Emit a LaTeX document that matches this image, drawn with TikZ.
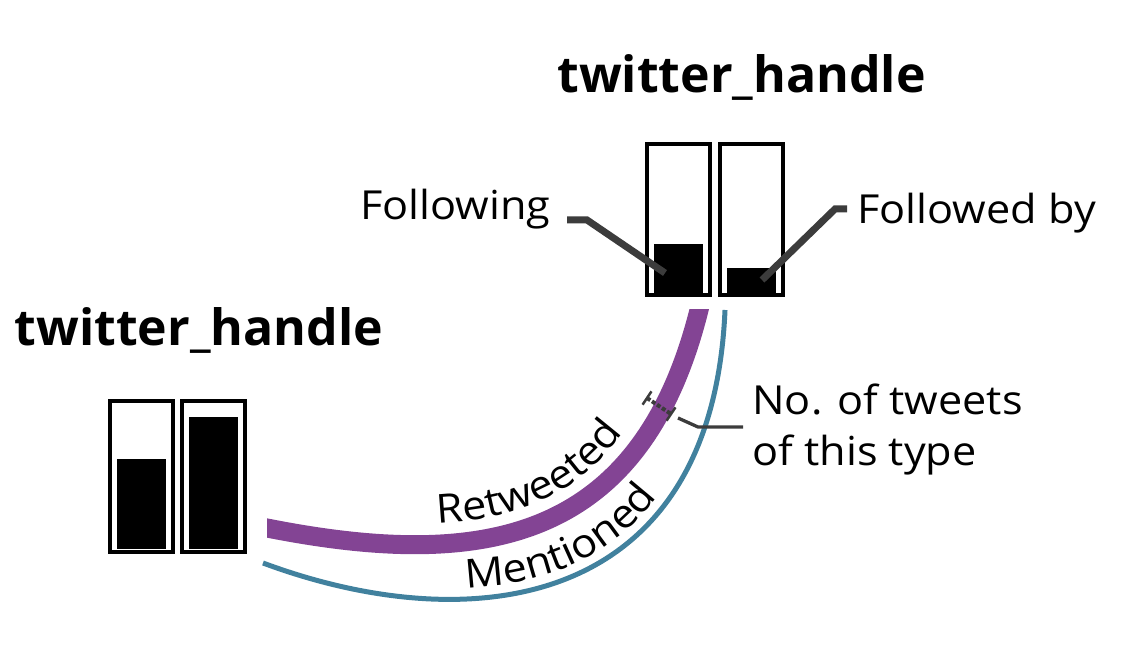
\documentclass[tikz,border=0pt]{standalone}
\usepackage{fontspec}
\setmainfont{Open Sans}
\newfontfamily\lblfont[FakeStretch=1.08]{Open Sans}
\usetikzlibrary{positioning}
\usetikzlibrary{decorations.text}
\usetikzlibrary{calc}
\definecolor{retweetc}{RGB}{131,68,148}
\definecolor{mentionc}{RGB}{65,129,158}
\definecolor{leaderc}{RGB}{60,60,60}
\newcommand{\lblsize}{\lblfont\fontsize{20pt}{25pt}\selectfont}
\newcommand{\handlesize}{\fontsize{25pt}{28pt}\selectfont\bfseries}

\begin{document}
\begin{tikzpicture}[
  x=0.5pt, y=-0.5pt,
  bar/.style={draw, line width=2pt, minimum width=31.5pt, minimum height=75.5pt, inner sep=0pt},
  level/.style={fill=black, inner sep=0pt, minimum width=24.5pt},
  handle/.style={inner sep=0pt, font=\handlesize},
  lbl/.style={inner sep=0pt, font=\lblsize},
  leader/.style={draw=leaderc, line width=3.5pt},
  alongpath/.style={decorate, decoration={text along path, text align={left indent=#1}}}
]
\useasboundingbox (0,0) rectangle (1127,667);

% top account
\node[handle, anchor=base] (h1) at (741.5,93) {twitter\_handle};
\node[bar] (top1) at (678.5,220) {};
\node[bar, right=3pt of top1] (top2) {};
\node[level, minimum height=24.5pt, above=2pt of top1.south] (ftop1) {};
\node[level, minimum height=12.5pt, above=2pt of top2.south] (ftop2) {};

% bottom account
\node[handle, anchor=base] (h2) at (199,346) {twitter\_handle};
\node[bar] (bot1) at (141,476) {};
\node[bar, right=2.5pt of bot1] (bot2) {};
\node[level, minimum height=45pt, above=2pt of bot1.south] (fbot1) {};
\node[level, minimum height=66pt, above=2pt of bot2.south] (fbot2) {};

% legend for the bars
\node[lbl, anchor=base east] (foll) at (551,220) {Following};
\node[lbl, anchor=base west] (fby) at (857,224) {Followed by};
\coordinate (pfoll) at (665,273);
\coordinate (pfby) at (762,280);
\draw[leader] ([xshift=8pt]foll.base east) -- ++(20,0) -- (pfoll);
\draw[leader] ([xshift=-5pt,yshift=7.5pt]fby.base west) -- ++(-12,0) -- (pfby);

% links
\coordinate (rt0) at (267,528);
\coordinate (rt1) at (699,310);
\coordinate (mn0) at (263,563);
\coordinate (mn1) at (725,310);
\begin{scope}
\clip (267,310) rectangle (1127,667);
\draw[draw=retweetc, line width=9.5pt]
  ([shift={(-12,-2.4)}]rt0) -- (rt0) .. controls (480,570) and (640,545) .. (rt1) -- ++(3,-12);
\end{scope}
\draw[draw=mentionc, line width=2.5pt]
  (mn0) .. controls (470,640) and (712,612) .. (mn1);

% link labels
\path[alongpath=84pt, decoration={text={|\lblsize|Retweeted}}]
  (270.7,508.9) .. controls (480.7,543.5) and (618,532.6) .. (680,305);
\path[alongpath=102pt, decoration={text={|\lblsize|Mentioned}}]
  (266.7,553.2) .. controls (471.5,624.6) and (699.3,605.9) .. (714.5,309.5);

% width marker
\coordinate (tk1) at (647,398);
\coordinate (tk2) at (671,414);
\draw[draw=leaderc, line width=2pt, dash pattern=on 2pt off 1pt] (tk1) -- (tk2);
\draw[draw=leaderc, line width=1.25pt] ($(tk1)!4pt!90:(tk2)$) -- ($(tk1)!4pt!-90:(tk2)$);
\draw[draw=leaderc, line width=1.25pt] ($(tk2)!4pt!90:(tk1)$) -- ($(tk2)!4pt!-90:(tk1)$);
\node[lbl, anchor=base west, align=left] (tweets) at (752,465) {No. of tweets\\of this type};
\draw[leader, line width=1.65pt] ([shift={(7,4)}]tk2) -- ++(20,9) -- ++(45,0);

\end{tikzpicture}
\end{document}
